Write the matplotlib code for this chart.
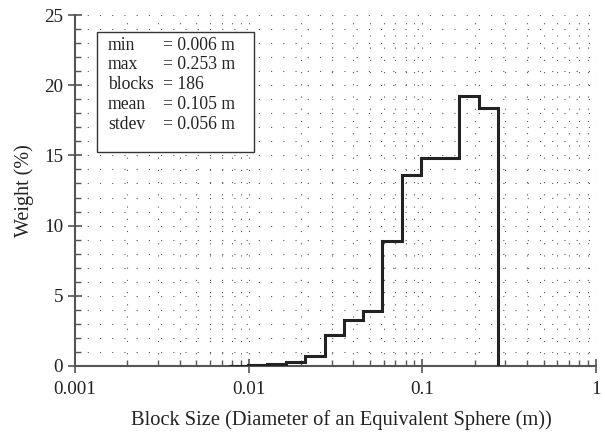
import matplotlib
matplotlib.use("Agg")
import matplotlib.pyplot as plt
import numpy as np
from matplotlib.ticker import LogLocator, MultipleLocator, FixedLocator, FixedFormatter
from matplotlib.patches import Rectangle

# Data
bin_edges = [0.0077, 0.0099, 0.0127, 0.0164, 0.0211, 0.0275, 0.0354, 0.0453,
             0.0583, 0.076, 0.098, 0.127, 0.163, 0.212, 0.2735]
weights = [0.0, 0.05, 0.15, 0.3, 0.7, 2.2, 3.3, 3.9, 8.9, 13.6, 14.8, 14.8, 19.2, 18.4]
x_ticks = [0.001, 0.01, 0.1, 1]
x_ticklabels = ["0.001", "0.01", "0.1", "1"]
stats_names = ["min", "max", "blocks", "mean", "stdev"]
stats_values = ["= 0.006 m", "= 0.253 m", "= 186", "= 0.105 m", "= 0.056 m"]

plt.rcParams['font.family'] = ['Liberation Serif', 'DejaVu Serif']

fig = plt.figure(figsize=(6.05, 4.33), dpi=100)
ax = fig.add_axes([75/605, (433-366)/433, 521/605, 351/433])

ax.set_xscale('log')
ax.set_xlim(0.001, 1)
ax.set_ylim(0, 25)

ax.stairs(weights, bin_edges, baseline=0, color='#222222', lw=2.2, zorder=3)

ax.xaxis.set_major_locator(FixedLocator(x_ticks))
ax.xaxis.set_major_formatter(FixedFormatter(x_ticklabels))
ax.xaxis.set_minor_locator(LogLocator(base=10, subs=np.arange(2, 10)))
ax.xaxis.set_minor_formatter(plt.NullFormatter())
ax.yaxis.set_major_locator(MultipleLocator(5))
ax.yaxis.set_minor_locator(MultipleLocator(1))

ax.grid(True, which='both', color='#555555', lw=0.8, linestyle=(0, (1, 10)))

for s in ['top', 'right']:
    ax.spines[s].set_visible(False)
for s in ['left', 'bottom']:
    ax.spines[s].set_color('#555555')
    ax.spines[s].set_linewidth(1.5)

ax.tick_params(which='major', direction='inout', length=10, width=1.2, color='#555555',
               labelsize=13.8, colors='#222222')
ax.tick_params(which='minor', direction='in', length=4, width=1.0, color='#555555')
ax.tick_params(axis='x', which='major', pad=6)

ax.set_xlabel('Block Size (Diameter of an Equivalent Sphere (m))', fontsize=14.8,
              color='#222222')
ax.xaxis.label.set_va('center')
ax.xaxis.set_label_coords(0.5 + 6/521, -(420-366)/351)
ax.set_ylabel('Weight (%)', fontsize=14.5, color='#222222', labelpad=7)

# Stats box
box = Rectangle((97/605, 1 - 152/433), (254-97)/605, (152-32)/433, transform=fig.transFigure,
                facecolor='white', edgecolor='#333333', lw=1.0, zorder=5)
fig.patches.append(box)
y0 = 45
for i, (n, v) in enumerate(zip(stats_names, stats_values)):
    yy = 1 - (y0 + i * 19.8) / 433
    fig.text(108/605, yy, n, fontsize=12.7, va='center', ha='left', color='#222222', zorder=6)
    fig.text(163/605, yy, v, fontsize=12.7, va='center', ha='left', color='#222222', zorder=6)

fig.savefig('out.png', dpi=100)
